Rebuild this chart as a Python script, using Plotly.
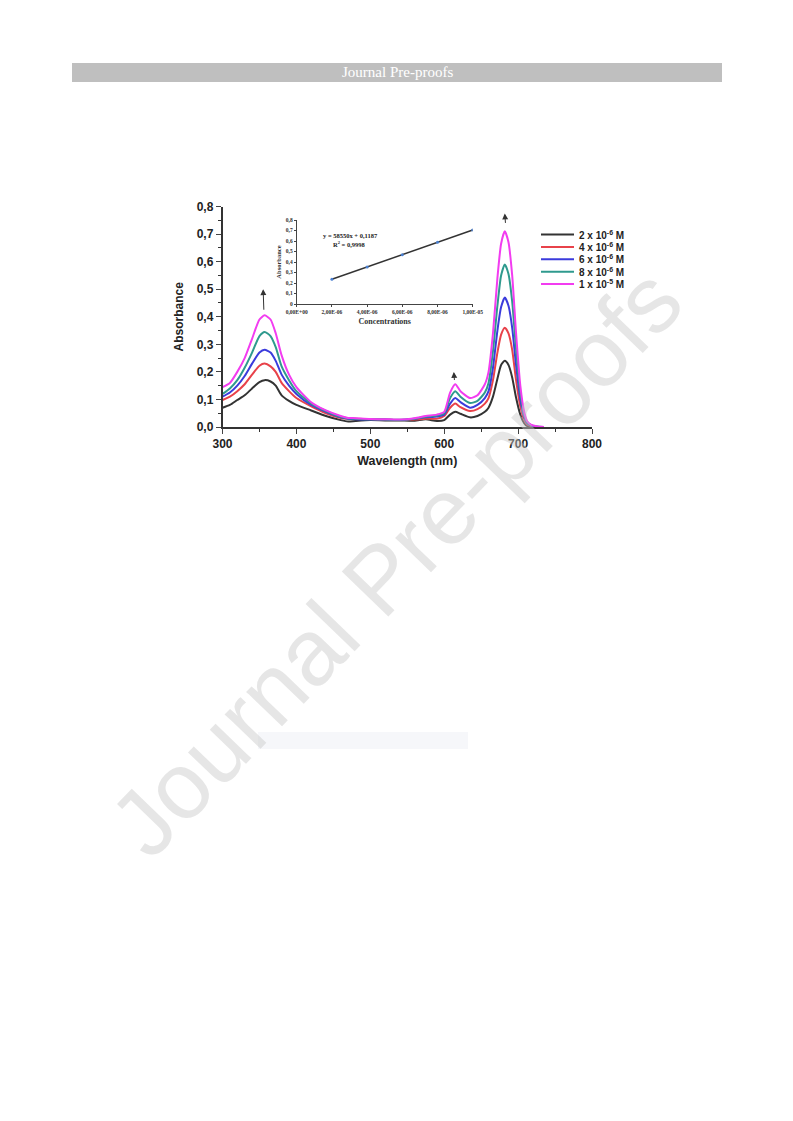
import plotly.graph_objects as go

W, H = 793, 1121

# ---------------- data ----------------
wavelength = [300, 310, 320, 330, 340, 350, 357, 365, 372, 380, 390, 400, 420, 440, 460, 470, 480,
              500, 520, 540, 560, 575, 590, 600, 608, 615, 622, 635, 645, 655, 660, 666, 672, 677,
              682, 687, 692, 697, 703, 708, 712, 718, 725, 735]

abs_2e6 = [0.070, 0.080, 0.098, 0.115, 0.140, 0.163, 0.170, 0.165, 0.150, 0.115, 0.095, 0.080, 0.060,
           0.040, 0.025, 0.020, 0.022, 0.025, 0.024, 0.024, 0.023, 0.028, 0.022, 0.025, 0.045, 0.055,
           0.048, 0.035, 0.040, 0.055, 0.070, 0.110, 0.175, 0.225, 0.240, 0.225, 0.180, 0.110, 0.045,
           0.015, 0.004, 0.000, 0.000, 0.000]
abs_4e6 = [0.098, 0.110, 0.130, 0.155, 0.190, 0.222, 0.230, 0.220, 0.200, 0.160, 0.130, 0.105, 0.075,
           0.050, 0.033, 0.030, 0.030, 0.028, 0.027, 0.025, 0.027, 0.030, 0.030, 0.040, 0.070, 0.085,
           0.072, 0.058, 0.065, 0.085, 0.105, 0.170, 0.270, 0.335, 0.360, 0.340, 0.280, 0.175, 0.075,
           0.028, 0.010, 0.003, 0.000, 0.000]
abs_6e6 = [0.110, 0.125, 0.150, 0.185, 0.230, 0.270, 0.280, 0.270, 0.240, 0.190, 0.150, 0.120, 0.080,
           0.055, 0.035, 0.030, 0.028, 0.027, 0.027, 0.025, 0.030, 0.035, 0.038, 0.045, 0.085, 0.105,
           0.090, 0.070, 0.080, 0.105, 0.130, 0.215, 0.350, 0.435, 0.470, 0.440, 0.360, 0.230, 0.100,
           0.038, 0.014, 0.005, 0.001, 0.000]
abs_8e6 = [0.120, 0.140, 0.170, 0.215, 0.270, 0.330, 0.345, 0.330, 0.290, 0.220, 0.170, 0.130, 0.085,
           0.058, 0.037, 0.032, 0.030, 0.028, 0.027, 0.026, 0.030, 0.037, 0.042, 0.050, 0.105, 0.130,
           0.110, 0.087, 0.095, 0.125, 0.160, 0.275, 0.440, 0.550, 0.590, 0.555, 0.455, 0.290, 0.125,
           0.048, 0.018, 0.006, 0.002, 0.000]
abs_1e5 = [0.145, 0.160, 0.200, 0.250, 0.320, 0.390, 0.405, 0.390, 0.340, 0.260, 0.190, 0.145, 0.090,
           0.060, 0.040, 0.033, 0.032, 0.029, 0.028, 0.027, 0.032, 0.040, 0.045, 0.055, 0.125, 0.155,
           0.130, 0.105, 0.115, 0.155, 0.200, 0.340, 0.540, 0.665, 0.710, 0.670, 0.550, 0.350, 0.150,
           0.058, 0.022, 0.008, 0.003, 0.000]

series = [abs_2e6, abs_4e6, abs_6e6, abs_8e6, abs_1e5]
labels = ["2 x 10<sup>-6</sup> M", "4 x 10<sup>-6</sup> M", "6 x 10<sup>-6</sup> M",
          "8 x 10<sup>-6</sup> M", "1 x 10<sup>-5</sup> M"]
colors = ["#333333", "#e8424a", "#3b3bdc", "#2f9a8e", "#f23cf0"]

# inset calibration
conc = [2e-6, 4e-6, 6e-6, 8e-6, 1e-5]
abs_peak = [0.236, 0.353, 0.470, 0.587, 0.704]
inset_xticks = [0, 2e-6, 4e-6, 6e-6, 8e-6, 1e-5]
inset_xticklabels = ["0,00E+00", "2,00E-06", "4,00E-06", "6,00E-06", "8,00E-06", "1,00E-05"]
inset_yticks = [0, 0.1, 0.2, 0.3, 0.4, 0.5, 0.6, 0.7, 0.8]
inset_yticklabels = ["0", "0,1", "0,2", "0,3", "0,4", "0,5", "0,6", "0,7", "0,8"]

main_xticks = [300, 400, 500, 600, 700, 800]
main_yticks = [0, 0.1, 0.2, 0.3, 0.4, 0.5, 0.6, 0.7, 0.8]
main_yticklabels = ["0,0", "0,1", "0,2", "0,3", "0,4", "0,5", "0,6", "0,7", "0,8"]

# ---------------- helpers ----------------
OFF = 8  # page body margin


def px_x(p):
    return (p - OFF) / W


def px_y(p):
    return 1 - (p - OFF) / H


fig = go.Figure()

for vals, col, lab in zip(series, colors, labels):
    fig.add_trace(go.Scatter(x=wavelength, y=vals, mode="lines", name=lab,
                             line=dict(color=col, width=2, shape="spline", smoothing=0.6),
                             xaxis="x", yaxis="y", showlegend=False))

fig.add_trace(go.Scatter(x=conc, y=abs_peak, mode="lines+markers",
                         line=dict(color="#333333", width=1.5),
                         marker=dict(color="#4a7fd0", size=3),
                         xaxis="x2", yaxis="y2", showlegend=False))

bold = "Liberation Sans"
serif = "Liberation Serif"
fig.update_layout(
    width=W, height=H, margin=dict(l=0, r=0, t=0, b=0, pad=0, autoexpand=False),
    paper_bgcolor="white", plot_bgcolor="rgba(0,0,0,0)",
    xaxis=dict(domain=[px_x(222.5), px_x(592)], range=[300, 800], anchor="y", automargin=False,
               tickvals=main_xticks, ticks="outside", ticklen=5, tickwidth=1.2,
               showline=True, linecolor="#333", linewidth=1.5, showgrid=False, zeroline=False,
               tickfont=dict(family=bold, size=12, color="#222", weight="bold"),
               minor=dict(dtick=50, ticks="outside", ticklen=3, tickcolor="#333"),
               title=dict(text="<b>Wavelength (nm)</b>", font=dict(family=bold, size=12.5, color="#222"),
                          standoff=6)),
    yaxis=dict(domain=[px_y(427), px_y(206.5)], range=[0, 0.8], anchor="x", automargin=False,
               tickvals=main_yticks, ticktext=main_yticklabels, ticks="outside", ticklen=5,
               tickwidth=1.2, showline=True, linecolor="#333", linewidth=1.5, showgrid=False,
               zeroline=False,
               tickfont=dict(family=bold, size=12, color="#222", weight="bold"),
               minor=dict(dtick=0.05, ticks="outside", ticklen=3, tickcolor="#333"),
               title=dict(text="<b>Absorbance</b>", font=dict(family=bold, size=12, color="#222"),
                          standoff=10)),
    xaxis2=dict(domain=[px_x(296.7), px_x(472.7)], range=[0, 1e-5], anchor="y2", automargin=False,
                tickvals=inset_xticks, ticktext=inset_xticklabels, ticks="outside", ticklen=2,
                showline=True, linecolor="#444", linewidth=0.8, showgrid=False, zeroline=False,
                tickfont=dict(family=serif, size=5.5, color="#333", weight="bold"),
                title=dict(text="<b>Concentrations</b>", font=dict(family=serif, size=8,
                                                                 color="#333"), standoff=4)),
    yaxis2=dict(domain=[px_y(304), px_y(220)], range=[0, 0.8], anchor="x2", automargin=False,
                tickvals=inset_yticks, ticktext=inset_yticklabels, ticks="outside", ticklen=2,
                showline=True, linecolor="#444", linewidth=0.8, showgrid=False, zeroline=False,
                tickfont=dict(family=serif, size=5.5, color="#333", weight="bold"),
                title=dict(text="<b>Absorbance</b>", font=dict(family=serif, size=6.5,
                                                             color="#333"), standoff=3)),
)

shapes = []
annotations = []

# header bar
shapes.append(dict(type="rect", xref="paper", yref="paper", x0=px_x(72), x1=px_x(722),
                   y0=px_y(82), y1=px_y(63), fillcolor="#bfbfbf", line=dict(width=0), layer="below"))
annotations.append(dict(xref="paper", yref="paper", x=px_x(397), y=px_y(72.5), text="Journal Pre-proofs",
                        showarrow=False, font=dict(family=serif, size=15, color="white"),
                        xanchor="center", yanchor="middle"))

# faint rectangle below
shapes.append(dict(type="rect", xref="paper", yref="paper", x0=px_x(258), x1=px_x(468),
                   y0=px_y(749), y1=px_y(732), fillcolor="#f6f7fa", line=dict(width=0), layer="below"))

# manual legend
for i, (col, lab) in enumerate(zip(colors, labels)):
    yy = 234.5 + 12.4 * i
    shapes.append(dict(type="line", xref="paper", yref="paper", x0=px_x(541), x1=px_x(574),
                       y0=px_y(yy), y1=px_y(yy), line=dict(color=col, width=2)))
    annotations.append(dict(xref="paper", yref="paper", x=px_x(577), y=px_y(yy), text="<b>" + lab + "</b>",
                            showarrow=False, xanchor="left", yanchor="middle",
                            font=dict(family=bold, size=10, color="#222")))

# arrows above peaks
for (xh, yh, yt) in [(355, 0.50, 0.42), (613, 0.20, 0.165), (682, 0.775, 0.735)]:
    annotations.append(dict(xref="x", yref="y", x=xh, y=yh, axref="x", ayref="y", ax=xh + 1, ay=yt,
                            text="", showarrow=True, arrowhead=2, arrowsize=1.2, arrowwidth=1,
                            arrowcolor="#333"))

# inset equation
annotations.append(dict(xref="paper", yref="paper", x=px_x(350), y=px_y(230.5),
                        text="<b>y = 58550x + 0,1187</b>", showarrow=False, xanchor="center",
                        font=dict(family=serif, size=6.5, color="#222")))
annotations.append(dict(xref="paper", yref="paper", x=px_x(349), y=px_y(238),
                        text="<b>R<sup>2</sup> = 0,9998</b>", showarrow=False, xanchor="center",
                        font=dict(family=serif, size=6.5, color="#222")))

# watermark
annotations.append(dict(xref="paper", yref="paper", x=px_x(395), y=px_y(562), text="Journal Pre-proofs",
                        showarrow=False, textangle=-46, xanchor="center", yanchor="middle",
                        font=dict(family="Liberation Sans", size=94, color="rgba(200,200,200,0.45)")))

fig.update_layout(shapes=shapes, annotations=annotations)
fig.write_html("out.html")
